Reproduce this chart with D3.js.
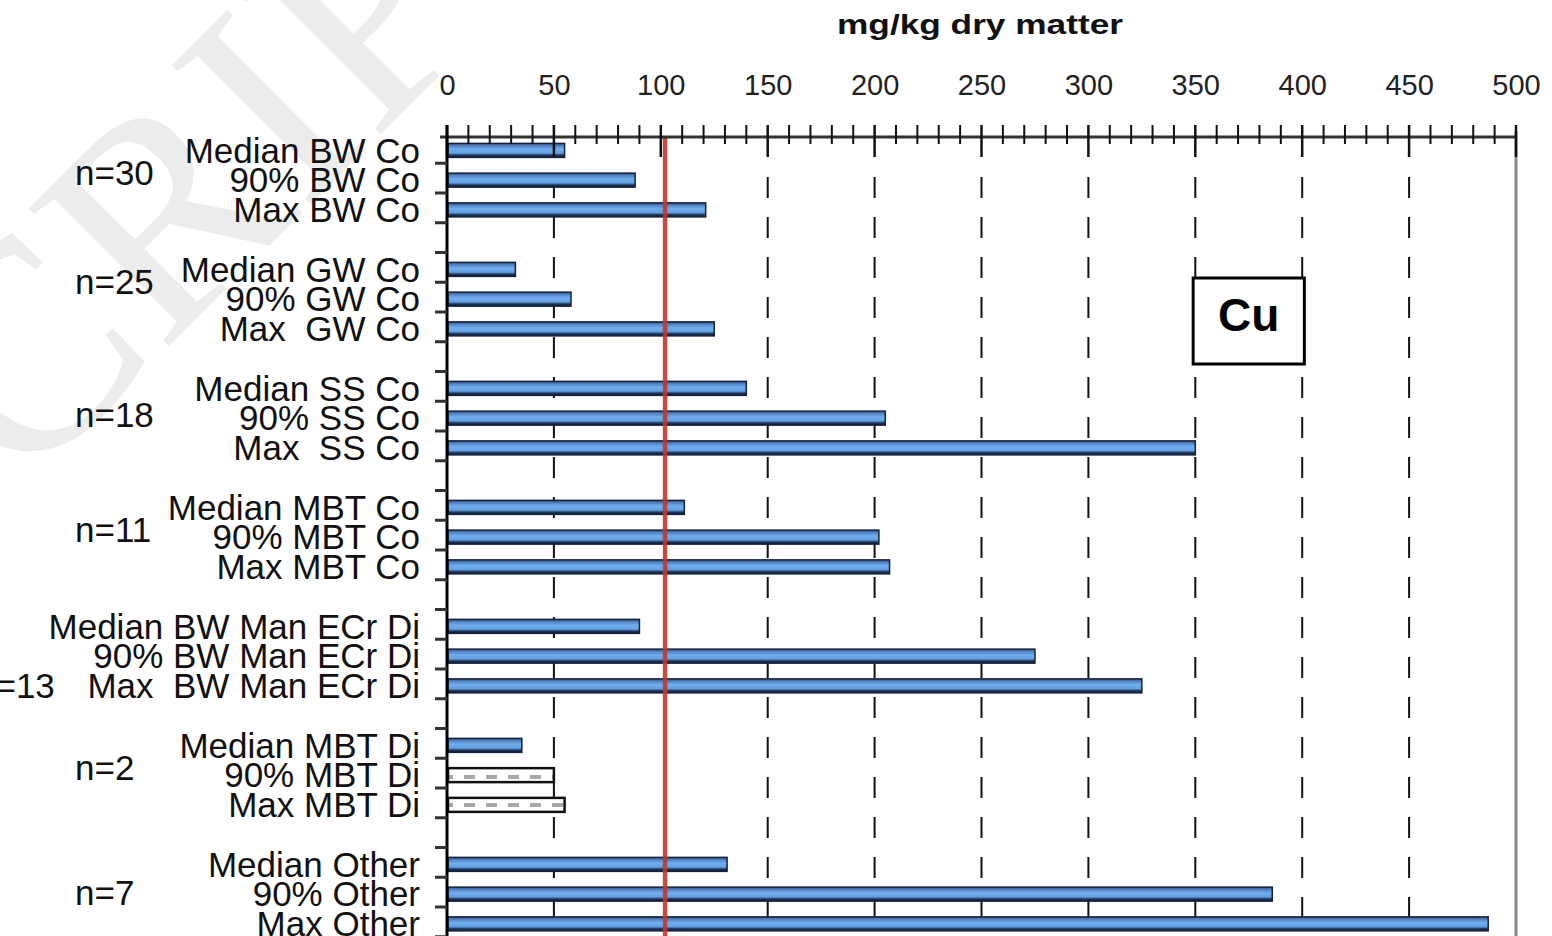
<!DOCTYPE html>
<html>
<head>
<meta charset="utf-8">
<script src="https://cdn.jsdelivr.net/npm/d3@7"></script>
<style>
  html, body { margin: 0; padding: 0; background: #fff; }
  text { font-family: "Liberation Sans", Arial, sans-serif; }
</style>
</head>
<body>
<div id="chart"></div>
<script>
// Cu concentrations (mg/kg dry matter) per compost type

const groupNames = ["n=30", "n=25", "n=18", "n=11", "n=13", "n=2", "n=7"];

const rowLabels = [
    "Median BW Co", "90% BW Co", "Max BW Co",
    "Median GW Co", "90% GW Co", "Max  GW Co",
    "Median SS Co", "90% SS Co", "Max  SS Co",
    "Median MBT Co", "90% MBT Co", "Max MBT Co",
    "Median BW Man ECr Di", "90% BW Man ECr Di", "Max  BW Man ECr Di",
    "Median MBT Di", "90% MBT Di", "Max MBT Di",
    "Median Other", "90% Other", "Max Other"
];

const cuValues = [
    55, 88, 121,
    32, 58, 125,
    140, 205, 350,
    111, 202, 207,
    90, 275, 325,
    35, 50, 55,
    131, 386, 487
];

// rows drawn with the grey hatched fill instead of blue
const hatchedRows = ["90% MBT Di", "Max MBT Di"];

const tickValues = [0, 50, 100, 150, 200, 250, 300, 350, 400, 450, 500];
const limitValue = 102;   // red reference line
const elementLabel = "Cu";
const axisTitle = "mg/kg dry matter";

// layout
const W = 1552, H = 936;
const plotLeft = 447, plotRight = 1516, axisY = 137;
const bandTop = 133.5, bandStep = 29.75;
// n labels: row shift (in bands) from the middle row of each group, x start
const nShift = [-0.25, -0.6, -0.1, -0.25, 1, -0.25, -0.05];
const nX = [75, 75, 75, 75, -24, 75, 75];

// build row list with an empty spacer row after each group
const rows = [];
groupNames.forEach((g, gi) => {
    for (let k = 0; k < 3; k++) {
        const i = gi * 3 + k;
        rows.push({ key: "r" + i, label: rowLabels[i], value: cuValues[i], group: gi,
                    hatched: hatchedRows.includes(rowLabels[i]) });
    }
    rows.push({ key: "gap" + gi, label: null, value: null, group: gi });
});

const x = d3.scaleLinear().domain([0, 500]).range([plotLeft, plotRight]);
const y = d3.scaleBand()
    .domain(rows.map(d => d.key))
    .range([bandTop, bandTop + bandStep * rows.length]);

const svg = d3.select("#chart").append("svg")
    .attr("width", W)
    .attr("height", H)
    .style("display", "block");

const defs = svg.append("defs");
const grad = defs.append("linearGradient")
    .attr("id", "barGrad")
    .attr("x1", 0).attr("y1", 0).attr("x2", 0).attr("y2", 1);
[["0%", "#34507a"], ["18%", "#5384c4"], ["42%", "#70aef0"], ["70%", "#62a0e2"],
 ["84%", "#22385c"], ["100%", "#0b1630"]].forEach(s => {
    grad.append("stop").attr("offset", s[0]).attr("stop-color", s[1]);
});

const hatch = defs.append("pattern")
    .attr("id", "hatch")
    .attr("patternUnits", "userSpaceOnUse")
    .attr("width", 22).attr("height", 14);
hatch.append("rect").attr("width", 22).attr("height", 14).attr("fill", "#fff");
hatch.append("rect").attr("x", 2).attr("y", 5).attr("width", 11).attr("height", 4).attr("fill", "#a8a8a8");

// watermark
svg.append("text")
    .attr("transform", "translate(257,258) rotate(-45)")
    .attr("x", -3044)
    .attr("y", 0)
    .style("font-family", "'Liberation Serif', 'Times New Roman', serif")
    .attr("font-size", 300)
    .attr("fill", "#ececec")
    .text("ACCEPTED MANUSCRIPT");

// dashed gridlines at the major ticks
svg.append("g")
    .selectAll("line")
    .data(tickValues.filter(v => v > 0 && v < 500 && v !== 100))
    .join("line")
    .attr("x1", d => x(d)).attr("x2", d => x(d))
    .attr("y1", 177).attr("y2", H)
    .attr("stroke", "#111")
    .attr("stroke-width", 2)
    .attr("stroke-dasharray", "21,19");

// bars
const barH = 14;
const dataRows = rows.filter(d => d.value !== null);
svg.append("g")
    .selectAll("rect")
    .data(dataRows)
    .join("rect")
    .attr("x", x(0) + 1)
    .attr("y", d => y(d.key) + y.bandwidth() / 2 - barH / 2 + 2)
    .attr("width", d => x(d.value) - x(0) - 1)
    .attr("height", barH)
    .attr("fill", d => d.hatched ? "url(#hatch)" : "url(#barGrad)")
    .attr("stroke", d => d.hatched ? "#111" : "#14223d")
    .attr("stroke-width", d => d.hatched ? 2.5 : 1.5);

// red limit line
svg.append("line")
    .attr("x1", x(limitValue)).attr("x2", x(limitValue))
    .attr("y1", axisY).attr("y2", H)
    .attr("stroke", "#c0392b")
    .attr("stroke-opacity", 0.9)
    .attr("stroke-width", 4.5);

// right frame
svg.append("line")
    .attr("x1", plotRight).attr("x2", plotRight)
    .attr("y1", axisY - 6).attr("y2", H)
    .attr("stroke", "#888")
    .attr("stroke-width", 3);

// top axis: line, minor and major ticks
const axisG = svg.append("g");
axisG.append("line")
    .attr("x1", plotLeft - 7).attr("x2", plotRight)
    .attr("y1", axisY).attr("y2", axisY)
    .attr("stroke", "#333").attr("stroke-width", 3);
axisG.selectAll("line.minor")
    .data(d3.range(0, 501, 10))
    .join("line")
    .attr("class", "minor")
    .attr("x1", d => x(d)).attr("x2", d => x(d))
    .attr("y1", 125)
    .attr("y2", d => d % 50 === 0 ? 157 : 144)
    .attr("stroke", "#111")
    .attr("stroke-width", d => d % 50 === 0 ? 2.5 : 2);

// tick labels
const topAxis = d3.axisTop(x).tickValues(tickValues).tickSize(0).tickPadding(42);
const labG = svg.append("g")
    .attr("transform", `translate(0,${axisY})`)
    .call(topAxis);
labG.select(".domain").remove();
labG.selectAll("text")
    .attr("font-size", 29)
    .style("font-family", "'Liberation Sans', Arial, sans-serif")
    .attr("fill", "#222");

// axis title
svg.append("text")
    .attr("x", 980)
    .attr("y", 34)
    .attr("text-anchor", "middle")
    .attr("font-size", 28)
    .attr("font-weight", "bold")
    .attr("textLength", 286)
    .attr("lengthAdjust", "spacingAndGlyphs")
    .attr("fill", "#111")
    .text(axisTitle);

// left axis line and band ticks
svg.append("line")
    .attr("x1", plotLeft).attr("x2", plotLeft)
    .attr("y1", 125).attr("y2", H)
    .attr("stroke", "#000").attr("stroke-width", 3);
svg.append("g")
    .selectAll("line")
    .data(rows.slice(1))
    .join("line")
    .attr("x1", plotLeft - 12).attr("x2", plotLeft)
    .attr("y1", d => y(d.key)).attr("y2", d => y(d.key))
    .attr("stroke", "#333")
    .attr("stroke-width", 3);

// row labels
svg.append("g")
    .selectAll("text")
    .data(dataRows)
    .join("text")
    .attr("x", 420)
    .attr("y", d => y(d.key) + y.bandwidth() / 2 + 2)
    .attr("dy", "0.35em")
    .attr("text-anchor", "end")
    .attr("font-size", 35)
    .attr("fill", "#111")
    .style("white-space", "pre")
    .text(d => d.label);

// group n labels
svg.append("g")
    .selectAll("text")
    .data(groupNames)
    .join("text")
    .attr("x", (d, i) => nX[i])
    .attr("y", (d, i) => y("r" + (i * 3 + 1)) + y.bandwidth() / 2 + nShift[i] * bandStep + 2)
    .attr("dy", "0.35em")
    .attr("font-size", 35)
    .attr("fill", "#111")
    .text(d => d);

// element box
const box = svg.append("g");
box.append("rect")
    .attr("x", x(349)).attr("y", 278)
    .attr("width", x(401) - x(349)).attr("height", 86)
    .attr("fill", "#fff")
    .attr("stroke", "#000")
    .attr("stroke-width", 3);
box.append("text")
    .attr("x", (x(349) + x(401)) / 2)
    .attr("y", 331)
    .attr("text-anchor", "middle")
    .attr("font-size", 46)
    .attr("font-weight", "bold")
    .attr("fill", "#000")
    .text(elementLabel);
</script>
</body>
</html>
